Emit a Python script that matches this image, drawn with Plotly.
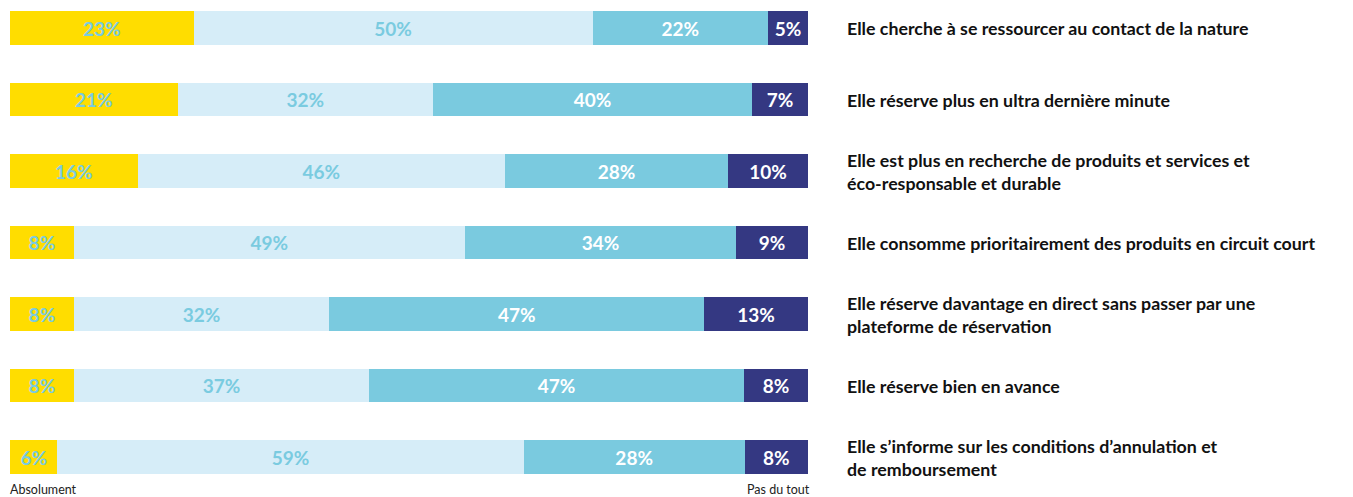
import plotly.graph_objects as go

categories = [
    "Elle cherche à se ressourcer au contact de la nature",
    "Elle réserve plus en ultra dernière minute",
    "Elle est plus en recherche de produits et services et<br>éco-responsable et durable",
    "Elle consomme prioritairement des produits en circuit court",
    "Elle réserve davantage en direct sans passer par une<br>plateforme de réservation",
    "Elle réserve bien en avance",
    "Elle s’informe sur les conditions d’annulation et<br>de remboursement",
]
absolument = [23, 21, 16, 8, 8, 8, 6]
plutot_oui = [50, 32, 46, 49, 32, 37, 59]
plutot_non = [22, 40, 28, 34, 47, 47, 28]
pas_du_tout = [5, 7, 10, 9, 13, 8, 8]

series = [
    ("Absolument", absolument, "#FFDD00", "#7ACBE0"),
    ("Plutôt", plutot_oui, "#D6EDF8", "#7ACBE0"),
    ("Plutôt pas", plutot_non, "#7ACADF", "#FFFFFF"),
    ("Pas du tout", pas_du_tout, "#343882", "#FFFFFF"),
]

ypos = list(range(len(categories)))

fig = go.Figure()
for name, vals, color, tcolor in series:
    fig.add_trace(go.Bar(
        y=ypos, x=vals, name=name, orientation="h",
        marker=dict(color=color, line=dict(width=0)),
        width=0.475,
        text=[f"{v}%" for v in vals],
        textposition="inside", insidetextanchor="middle", textangle=0,
        constraintext="none",
        textfont=dict(family="Lato", size=19, color=tcolor, weight="bold"),
        hoverinfo="skip",
    ))

for i, lab in enumerate(categories):
    fig.add_annotation(
        x=1.0464, xref="paper", y=i, yref="y", text=lab,
        xanchor="left", yanchor="middle", align="left", showarrow=False,
        font=dict(family="Lato", size=17.8, color="#111111", weight="bold"),
    )

fig.add_annotation(x=-0.0025, xref="paper", y=-0.02, yref="paper", text="Absolument",
                   xanchor="left", yanchor="middle", showarrow=False,
                   font=dict(family="Lato", size=12.5, color="#222222"))
fig.add_annotation(x=1.005, xref="paper", y=-0.02, yref="paper", text="Pas du tout",
                   xanchor="right", yanchor="middle", showarrow=False,
                   font=dict(family="Lato", size=12.5, color="#222222"))

fig.update_layout(
    width=1353, height=497,
    margin=dict(l=10, r=545, t=0, b=17),
    barmode="stack", barnorm="percent",
    showlegend=False,
    plot_bgcolor="white", paper_bgcolor="white",
    xaxis=dict(visible=False, range=[0, 100], fixedrange=True),
    yaxis=dict(visible=False, range=[6.3217, -0.3916], fixedrange=True),
)

fig.write_html("out.html", config={"displayModeBar": False},
               post_script="document.body.style.margin='0';document.body.style.overflow='hidden';")
